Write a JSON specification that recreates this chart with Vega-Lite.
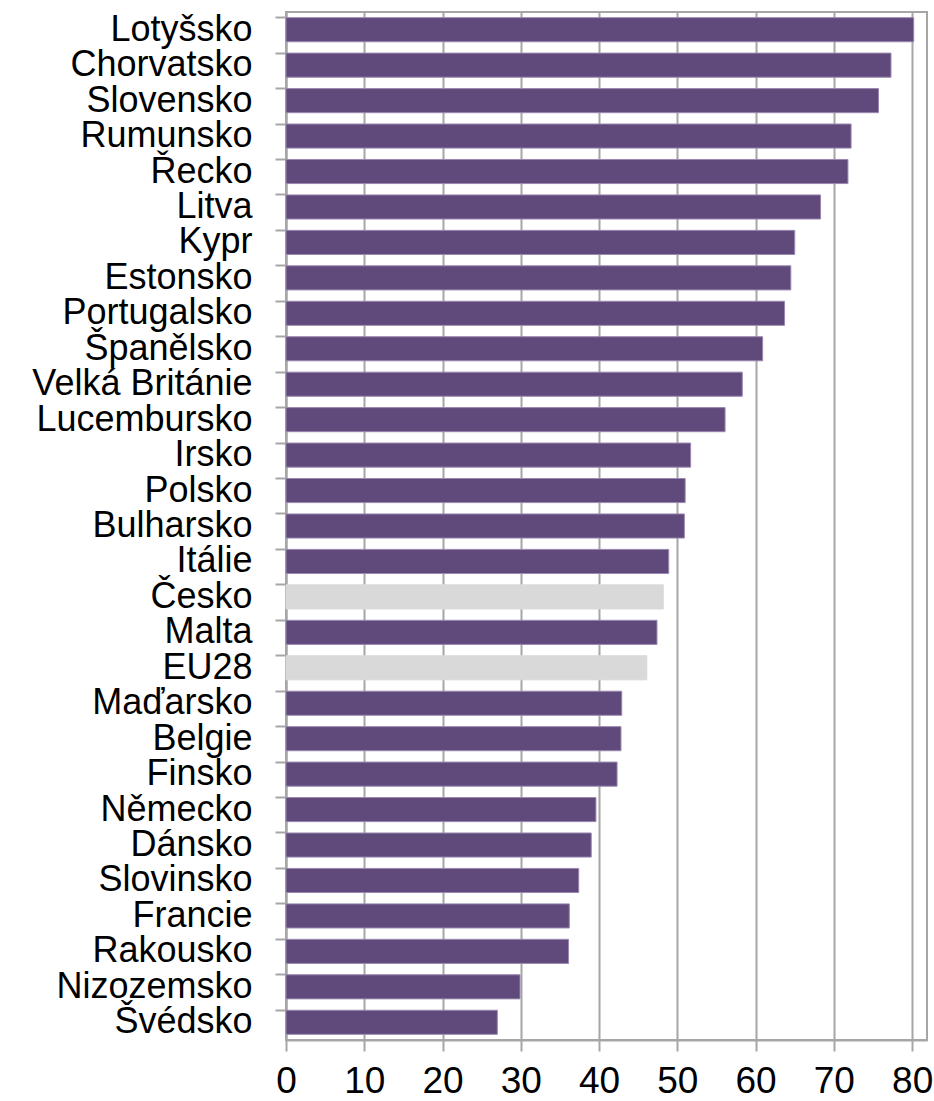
{
  "$schema": "https://vega.github.io/schema/vega-lite/v6.json",
  "width": 641,
  "height": 1028,
  "autosize": {"type": "none"},
  "padding": {"left": 286, "top": 12, "right": 7, "bottom": 61},
  "background": "white",
  "config": {
    "view": {"stroke": "#A6A6A6", "strokeWidth": 2},
    "font": "Liberation Sans"
  },
  "data": {
    "values": [
      {"zeme": "Lotyšsko", "hodnota": 80.2, "typ": "zeme"},
      {"zeme": "Chorvatsko", "hodnota": 77.3, "typ": "zeme"},
      {"zeme": "Slovensko", "hodnota": 75.7, "typ": "zeme"},
      {"zeme": "Rumunsko", "hodnota": 72.2, "typ": "zeme"},
      {"zeme": "Řecko", "hodnota": 71.8, "typ": "zeme"},
      {"zeme": "Litva", "hodnota": 68.3, "typ": "zeme"},
      {"zeme": "Kypr", "hodnota": 65.0, "typ": "zeme"},
      {"zeme": "Estonsko", "hodnota": 64.5, "typ": "zeme"},
      {"zeme": "Portugalsko", "hodnota": 63.7, "typ": "zeme"},
      {"zeme": "Španělsko", "hodnota": 60.9, "typ": "zeme"},
      {"zeme": "Velká Británie", "hodnota": 58.3, "typ": "zeme"},
      {"zeme": "Lucembursko", "hodnota": 56.1, "typ": "zeme"},
      {"zeme": "Irsko", "hodnota": 51.7, "typ": "zeme"},
      {"zeme": "Polsko", "hodnota": 51.0, "typ": "zeme"},
      {"zeme": "Bulharsko", "hodnota": 50.9, "typ": "zeme"},
      {"zeme": "Itálie", "hodnota": 48.9, "typ": "zeme"},
      {"zeme": "Česko", "hodnota": 48.2, "typ": "zvyrazneni"},
      {"zeme": "Malta", "hodnota": 47.4, "typ": "zeme"},
      {"zeme": "EU28", "hodnota": 46.1, "typ": "zvyrazneni"},
      {"zeme": "Maďarsko", "hodnota": 42.9, "typ": "zeme"},
      {"zeme": "Belgie", "hodnota": 42.8, "typ": "zeme"},
      {"zeme": "Finsko", "hodnota": 42.3, "typ": "zeme"},
      {"zeme": "Německo", "hodnota": 39.6, "typ": "zeme"},
      {"zeme": "Dánsko", "hodnota": 39.0, "typ": "zeme"},
      {"zeme": "Slovinsko", "hodnota": 37.4, "typ": "zeme"},
      {"zeme": "Francie", "hodnota": 36.2, "typ": "zeme"},
      {"zeme": "Rakousko", "hodnota": 36.1, "typ": "zeme"},
      {"zeme": "Nizozemsko", "hodnota": 29.9, "typ": "zeme"},
      {"zeme": "Švédsko", "hodnota": 27.0, "typ": "zeme"}
    ]
  },
  "mark": {"type": "bar", "strokeWidth": 1},
  "encoding": {
    "y": {
      "field": "zeme",
      "type": "nominal",
      "sort": null,
      "title": null,
      "scale": {"paddingInner": 0.32, "paddingOuter": 0.16},
      "axis": {
        "labelFont": "Liberation Sans",
        "labelFontSize": 36,
        "labelColor": "#000000",
        "labelPadding": 23,
        "labelLimit": 0,
        "labelOverlap": false,
        "tickSize": 11,
        "tickColor": "#A6A6A6",
        "tickWidth": 2,
        "bandPosition": 0,
        "domainColor": "#A6A6A6",
        "domainWidth": 2,
        "grid": false
      }
    },
    "x": {
      "field": "hodnota",
      "type": "quantitative",
      "title": null,
      "scale": {"domain": [0, 81.9], "nice": false, "zero": true},
      "axis": {
        "values": [0, 10, 20, 30, 40, 50, 60, 70, 80],
        "labelFont": "Liberation Sans",
        "labelFontSize": 37,
        "labelColor": "#000000",
        "labelPadding": 12,
        "labelFlush": false,
        "labelOverlap": false,
        "tickSize": 11,
        "tickColor": "#A6A6A6",
        "tickWidth": 2,
        "domainColor": "#A6A6A6",
        "domainWidth": 2,
        "grid": true,
        "gridColor": "#A6A6A6",
        "gridWidth": 2
      }
    },
    "color": {
      "field": "typ",
      "type": "nominal",
      "scale": {"domain": ["zeme", "zvyrazneni"], "range": ["#604A7B", "#D9D9D9"]},
      "legend": null
    },
    "stroke": {
      "field": "typ",
      "type": "nominal",
      "scale": {"domain": ["zeme", "zvyrazneni"], "range": ["#9A88B0", "#D9D9D9"]},
      "legend": null
    }
  }
}
